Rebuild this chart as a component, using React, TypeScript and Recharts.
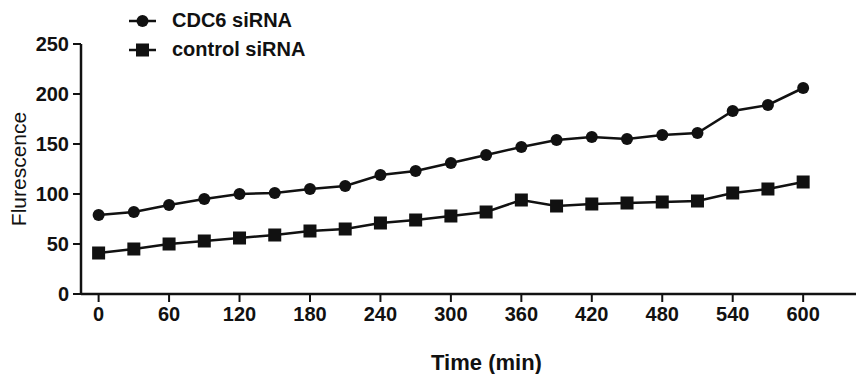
import { LineChart, Line, XAxis, YAxis, Label } from 'recharts'

// 시간 (min), 30분 간격
const TIMES = [0, 30, 60, 90, 120, 150, 180, 210, 240, 270, 300, 330, 360, 390, 420, 450, 480, 510, 540, 570, 600]
const CDC6 = [79, 82, 89, 95, 100, 101, 105, 108, 119, 123, 131, 139, 147, 154, 157, 155, 159, 161, 183, 189, 206]
const CONTROL = [41, 45, 50, 53, 56, 59, 63, 65, 71, 74, 78, 82, 94, 88, 90, 91, 92, 93, 101, 105, 112]
const X_TICKS = [0, 60, 120, 180, 240, 300, 360, 420, 480, 540, 600]
const Y_TICKS = [0, 50, 100, 150, 200, 250]
const SERIES_NAMES = ['CDC6 siRNA', 'control siRNA']

const FONT = '"Liberation Sans", Arial, sans-serif'
const INK = '#111'

const data = TIMES.map((t, i) => ({ time: t, cdc6: CDC6[i], control: CONTROL[i] }))

function SquareDot(props: { cx?: number; cy?: number }) {
  const { cx, cy } = props
  if (cx == null || cy == null) return null
  return <rect x={cx - 6.5} y={cy - 6.5} width={13} height={13} fill={INK} />
}

// 범례는 플롯 영역을 밀어내지 않도록 위에 겹쳐서 그림
function LegendBox() {
  const row = (label: string, square: boolean) => (
    <div key={label} style={{ display: 'flex', alignItems: 'center', height: 29 }}>
      <svg width={30} height={16} style={{ marginRight: 14 }}>
        <line x1={1} y1={8} x2={28} y2={8} stroke={INK} strokeWidth={2.5} />
        {square ? <rect x={8} y={1.5} width={13} height={13} fill={INK} /> : <circle cx={14.5} cy={8} r={6} fill={INK} />}
      </svg>
      <span style={{ fontFamily: FONT, fontWeight: 'bold', fontSize: 20, color: INK }}>{label}</span>
    </div>
  )
  return (
    <div style={{ position: 'absolute', left: 128, top: 6 }}>
      {row(SERIES_NAMES[0], false)}
      {row(SERIES_NAMES[1], true)}
    </div>
  )
}

export default function App() {
  return (
    <div style={{ position: 'absolute', left: 0, top: 0, width: 856, height: 374, background: '#fff' }}>
      <LineChart width={856} height={374} data={data} margin={{ top: 44, right: 0, left: 0, bottom: 0 }}>
        <XAxis
          dataKey="time"
          type="number"
          domain={[-15, 645]}
          ticks={X_TICKS}
          height={80}
          axisLine={{ stroke: INK, strokeWidth: 2.5 }}
          tickLine={{ stroke: INK, strokeWidth: 2 }}
          tickSize={8}
          tickMargin={5}
          tick={{ fill: INK, fontFamily: FONT, fontWeight: 'bold', fontSize: 20 }}
        >
          <Label
            value="Time (min)"
            position="insideBottom"
            offset={4}
            dx={18}
            style={{ fill: INK, fontFamily: FONT, fontWeight: 'bold', fontSize: 22 }}
          />
        </XAxis>
        <YAxis
          domain={[0, 250]}
          ticks={Y_TICKS}
          width={81}
          axisLine={{ stroke: INK, strokeWidth: 2.5 }}
          tickLine={{ stroke: INK, strokeWidth: 2 }}
          tickSize={8}
          tickMargin={4}
          tick={{ fill: INK, fontFamily: FONT, fontWeight: 'bold', fontSize: 20 }}
        >
          <Label
            value="Flurescence"
            angle={-90}
            position="center"
            dx={-22}
            style={{ fill: INK, fontFamily: FONT, fontSize: 21, textAnchor: 'middle' }}
          />
        </YAxis>
        <Line
          dataKey="cdc6"
          name={SERIES_NAMES[0]}
          stroke={INK}
          strokeWidth={2.5}
          dot={{ r: 6, fill: INK, stroke: INK, strokeWidth: 0 }}
          isAnimationActive={false}
        />
        <Line
          dataKey="control"
          name={SERIES_NAMES[1]}
          stroke={INK}
          strokeWidth={2.5}
          dot={<SquareDot />}
          isAnimationActive={false}
        />
      </LineChart>
      <LegendBox />
    </div>
  )
}
